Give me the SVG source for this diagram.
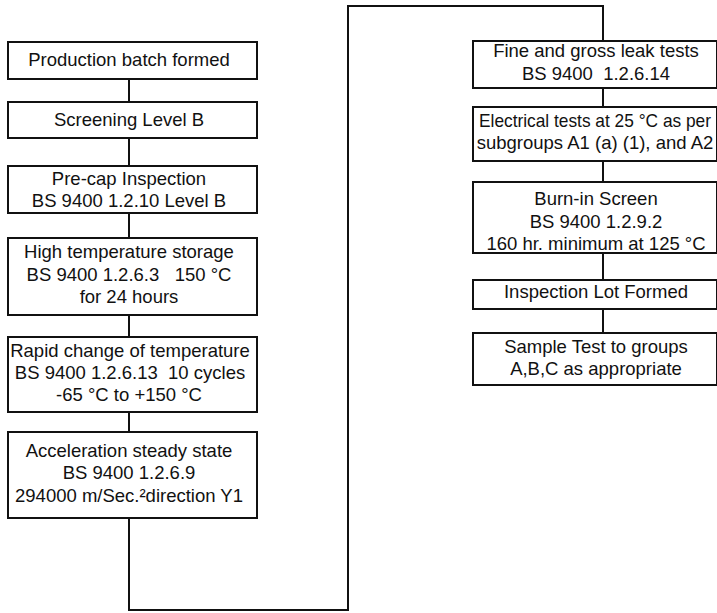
<svg xmlns="http://www.w3.org/2000/svg" width="717" height="613" viewBox="0 0 717 613">
<style>
.box{fill:#fff;stroke:#111;stroke-width:2}
.t{font-family:"Liberation Sans",Arial,sans-serif;font-size:18.5px;fill:#111;text-anchor:middle;white-space:pre}
.c{fill:none;stroke:#111;stroke-width:2}
</style>
<rect width="717" height="613" fill="#fff"/>
<g id="connectors">
<path class="c" d="M129 79V102M129 138V166M129 213V238M129 315V337M129 412V432M129 518V610H348V6H603V41"/>
<path class="c" d="M603 88V107M603 161V182M603 253V280M603 309V333"/>
</g>
<g id="n1"><rect class="box" x="8" y="42" width="249" height="37"/><text class="t" x="129" y="66">Production batch formed</text></g>
<g id="n2"><rect class="box" x="8" y="102" width="249" height="36"/><text class="t" x="129" y="126">Screening Level B</text></g>
<g id="n3"><rect class="box" x="8" y="166" width="249" height="47"/><text class="t" x="129" y="185">Pre-cap Inspection</text><text class="t" x="129" y="207">BS 9400 1.2.10 Level B</text></g>
<g id="n4"><rect class="box" x="8" y="238" width="249" height="77"/><text class="t" x="129" y="258">High temperature storage</text><text class="t" x="129" y="281">BS 9400 1.2.6.3   150 °C</text><text class="t" x="129" y="303">for 24 hours</text></g>
<g id="n5"><rect class="box" x="8" y="337" width="249" height="75"/><text class="t" x="130" y="357">Rapid change of temperature</text><text class="t" x="130" y="379">BS 9400 1.2.6.13  10 cycles</text><text class="t" x="129" y="401">-65 °C to +150 °C</text></g>
<g id="n6"><rect class="box" x="8" y="432" width="249" height="86"/><text class="t" x="129" y="457">Acceleration steady state</text><text class="t" x="129" y="479">BS 9400 1.2.6.9</text><text class="t" x="129" y="502">294000 m/Sec.²direction Y1</text></g>
<g id="n7"><rect class="box" x="473" y="41" width="244" height="47"/><text class="t" x="596" y="57">Fine and gross leak tests</text><text class="t" x="596" y="80">BS 9400  1.2.6.14</text></g>
<g id="n8"><rect class="box" x="473" y="107" width="244" height="54"/><text class="t" x="595" y="127" textLength="232" lengthAdjust="spacingAndGlyphs">Electrical tests at 25 °C as per</text><text class="t" x="595" y="149">subgroups A1 (a) (1), and A2</text></g>
<g id="n9"><rect class="box" x="473" y="182" width="244" height="71"/><text class="t" x="596" y="205">Burn-in Screen</text><text class="t" x="596" y="228">BS 9400 1.2.9.2</text><text class="t" x="596" y="250">160 hr. minimum at 125 °C</text></g>
<g id="n10"><rect class="box" x="473" y="280" width="244" height="29"/><text class="t" x="596" y="298">Inspection Lot Formed</text></g>
<g id="n11"><rect class="box" x="473" y="333" width="244" height="52"/><text class="t" x="596" y="353">Sample Test to groups</text><text class="t" x="596" y="375">A,B,C as appropriate</text></g>
</svg>
